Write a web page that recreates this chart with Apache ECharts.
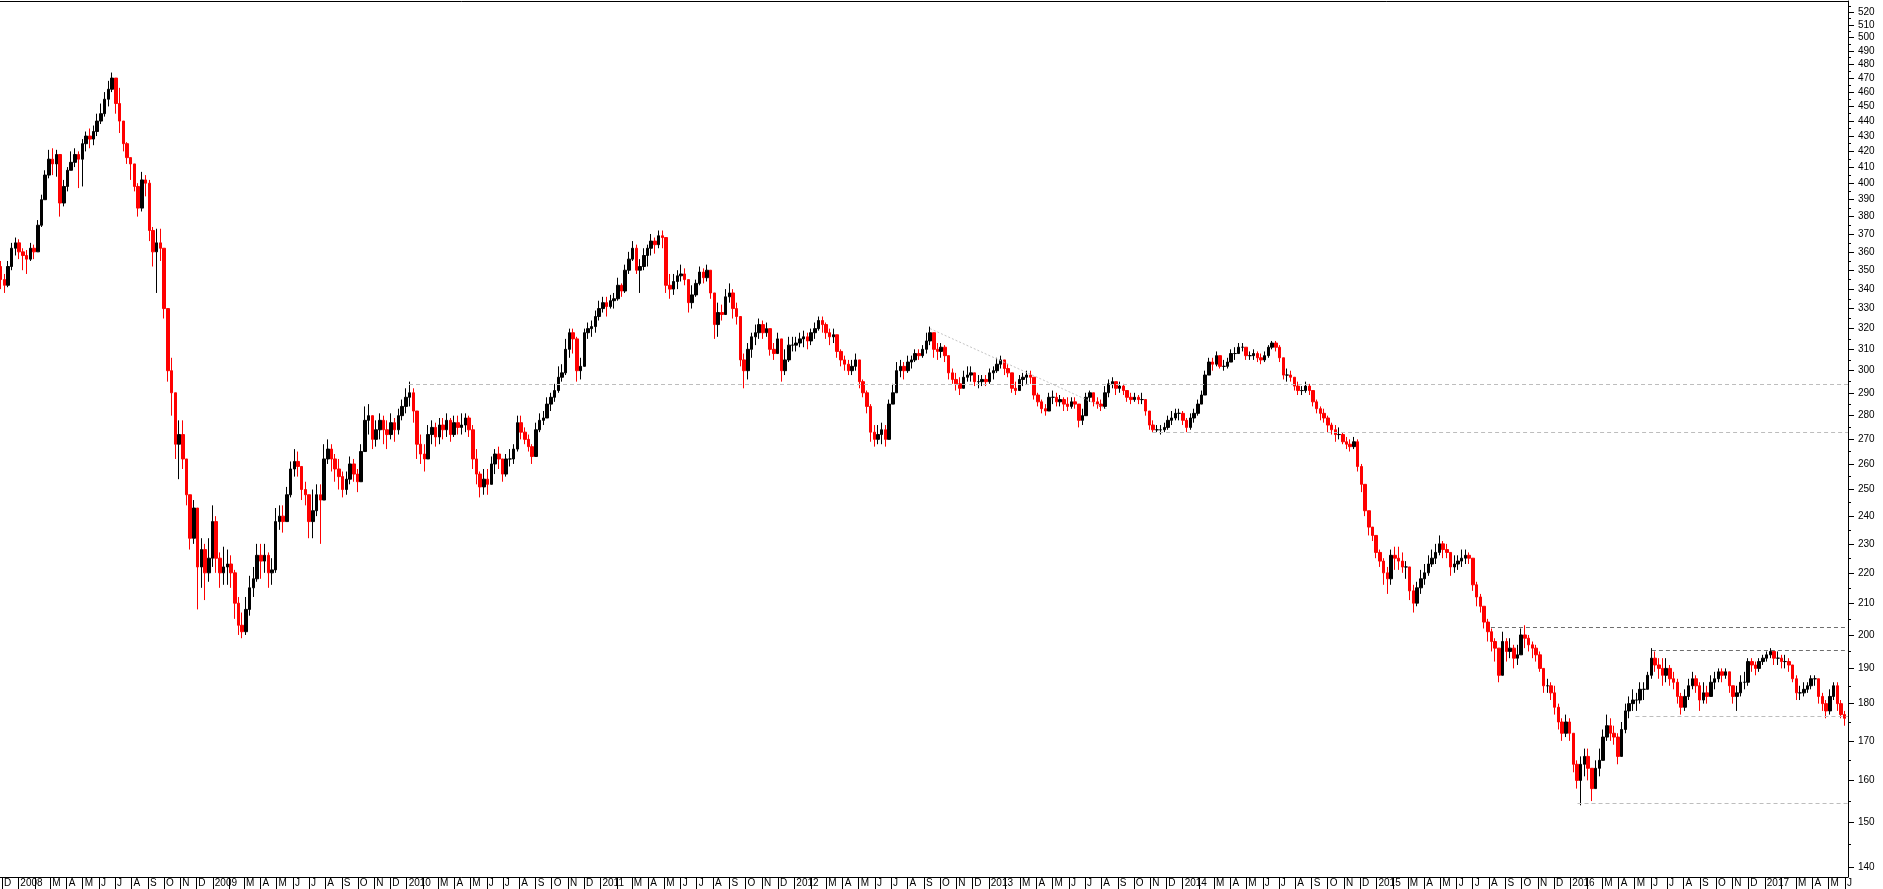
<!DOCTYPE html>
<html><head><meta charset="utf-8">
<script src="https://cdn.jsdelivr.net/npm/echarts@6/dist/echarts.min.js"></script>
<style>html,body{margin:0;padding:0;background:#fff;}#c{width:1883px;height:889px;}</style>
</head><body><div id="c"></div>
<script>
// ---- data (weekly bars: [close, high, low]) ----
const blockStarts = ['2007-11-30','2008-01-04','2009-01-02','2010-01-01','2011-01-07','2012-01-06','2013-01-04','2014-01-03','2015-01-02','2016-01-01','2017-01-06'];
const firstOpen = 352;
const w2007 = [[345,355,340],[342,348,338],[352,355,341],[362,365,350],[365,368,358]];
const w2008 = [[360,367,356],[358,362,350],[356,361,348],[362,365,355],[360,364,356],[375,378,360],[390,393,374],[405,408,390],[415,421,403],[412,422,405],[418,421,404],[388,418,380],[398,402,386],[408,410,395],[413,420,408],[418,422,410],[415,420,397],[425,428,398],[430,433,420],[428,435,422],[433,437,424],[440,445,430],[445,452,438],[455,460,443],[462,468,450],[470,474,460],[452,470,445],[440,463,432],[425,440,420],[416,426,412],[412,416,402],[398,410,395],[385,400,380],[402,407,383],[400,405,392],[372,402,366],[360,374,352],[365,373,338],[362,373,355],[330,360,325],[300,328,295],[290,306,280],[268,285,262],[272,278,254],[262,278,258],[248,262,244],[232,246,228],[243,246,230],[222,238,208],[228,232,215],[220,230,211],[225,232,217]];
const w2009 = [[238,244,222],[225,240,220],[220,227,215],[222,229,216],[223,228,216],[220,226,215],[210,221,205],[203,212,200],[201,207,199],[208,212,200],[215,219,206],[218,222,212],[226,230,217],[224,230,218],[226,230,220],[220,227,215],[221,225,216],[238,243,220],[240,244,235],[238,244,234],[248,251,240],[258,261,247],[261,266,255],[259,265,255],[250,259,246],[248,253,244],[238,248,232],[242,250,232],[248,252,240],[246,252,230],[262,268,250],[266,270,260],[262,268,257],[258,264,253],[255,262,250],[250,257,247],[254,257,248],[260,263,252],[256,262,253],[253,258,249],[265,268,254],[278,284,265],[280,285,272],[270,280,266],[274,278,267],[278,281,270],[274,280,268],[272,278,266],[277,281,270],[274,279,269],[280,283,272],[284,287,278]];
const w2010 = [[288,292,281],[290,295,284],[282,292,277],[268,280,262],[264,272,260],[262,268,257],[272,276,262],[275,278,268],[271,277,267],[276,279,268],[274,279,270],[278,281,271],[272,279,269],[277,280,271],[275,280,272],[276,281,272],[279,281,273],[274,280,271],[262,276,258],[256,266,252],[251,257,247],[254,258,248],[252,258,248],[260,263,252],[264,266,256],[262,267,258],[256,262,253],[262,264,255],[262,266,259],[266,268,260],[277,280,265],[273,280,270],[270,275,268],[267,272,265],[263,268,260],[274,277,264],[278,281,273],[279,282,276],[285,288,279],[288,290,282],[291,294,286],[297,302,290],[299,303,295],[310,315,298],[318,320,306],[315,320,308],[300,316,295],[302,306,296],[318,320,302],[320,323,315],[321,324,316],[326,329,318],[330,334,324]];
const w2011 = [[333,336,328],[331,336,326],[334,337,330],[335,338,330],[342,346,334],[339,343,336],[350,353,338],[356,360,348],[362,366,355],[350,364,348],[352,356,338],[358,362,350],[362,364,352],[366,370,358],[364,368,359],[369,372,362],[368,372,362],[342,365,338],[340,348,335],[344,348,337],[347,350,340],[348,353,344],[345,351,342],[333,344,328],[337,342,330],[343,345,336],[349,352,342],[346,351,343],[350,353,344],[338,348,335],[322,338,315],[328,333,316],[327,332,324],[336,340,328],[338,343,333],[330,340,325],[326,333,322],[305,322,302],[300,308,292],[310,313,296],[316,318,306],[318,322,312],[322,325,315],[318,324,315],[320,323,316],[310,318,307],[308,313,305],[315,318,310],[300,314,295],[305,310,298],[312,316,304],[312,316,309]];
const w2012 = [[313,316,309],[315,318,311],[316,319,311],[314,318,310],[318,320,312],[320,323,315],[324,326,319],[322,326,318],[318,323,315],[316,320,312],[317,320,313],[309,316,306],[305,310,302],[303,307,300],[300,305,298],[302,305,298],[305,308,300],[295,304,292],[290,296,288],[284,291,281],[273,285,269],[270,276,267],[272,276,268],[274,277,268],[270,276,267],[285,287,270],[290,294,285],[300,304,290],[302,305,297],[300,304,296],[304,307,299],[305,307,301],[308,310,304],[307,310,305],[310,312,306],[314,318,308],[318,321,312],[310,318,306],[309,313,305],[311,313,306],[307,312,304],[299,306,296],[296,301,294],[294,299,291],[292,297,289],[297,300,292],[298,302,295],[299,302,295],[295,299,293],[295,298,292],[296,298,293],[295,298,293]];
const w2013 = [[299,301,294],[300,302,296],[303,306,299],[305,307,301],[301,305,298],[299,303,297],[292,298,290],[291,295,289],[296,298,291],[297,299,293],[298,300,294],[297,300,294],[289,296,287],[286,290,284],[283,287,281],[282,285,280],[288,290,282],[288,291,285],[286,290,284],[287,289,284],[285,288,282],[284,288,282],[286,288,283],[285,288,283],[278,285,275],[280,283,276],[288,290,280],[290,291,286],[286,290,284],[285,288,283],[284,287,282],[290,293,283],[294,296,288],[295,297,292],[292,295,289],[293,295,290],[291,294,289],[288,291,286],[287,290,285],[288,290,286],[287,289,285],[287,290,285],[282,287,280],[276,282,274],[274,278,273],[274,276,273],[274,276,272],[275,277,273],[278,280,274],[279,282,276],[281,283,278],[281,283,278]];
const w2014 = [[278,282,276],[275,279,273],[279,281,274],[281,283,277],[285,287,280],[289,291,285],[298,300,290],[304,306,298],[303,306,300],[307,309,302],[302,307,301],[302,305,300],[304,306,301],[308,310,304],[308,311,305],[311,313,308],[311,313,309],[307,311,305],[307,309,305],[308,310,305],[306,309,304],[305,308,303],[307,309,304],[311,312,306],[313,314,310],[311,314,309],[306,312,304],[298,305,296],[298,301,295],[297,300,295],[293,297,291],[291,295,289],[291,293,289],[293,295,290],[291,294,289],[286,290,284],[283,287,281],[281,284,278],[279,283,277],[276,280,273],[274,277,272],[272,276,269],[272,275,270],[269,273,268],[268,271,266],[267,270,265],[269,271,266],[259,270,257],[252,260,249],[242,251,240],[236,242,233],[233,236,231]];
const w2015 = [[227,232,225],[224,228,222],[220,225,216],[218,222,213],[226,228,216],[225,229,221],[224,229,221],[222,227,220],[222,224,218],[214,221,211],[210,216,207],[215,217,209],[218,221,213],[220,223,216],[223,226,219],[225,228,222],[227,230,223],[230,233,226],[228,231,225],[227,230,225],[222,227,219],[223,226,220],[224,226,221],[225,228,222],[226,228,223],[225,227,223],[216,222,214],[212,217,209],[209,213,207],[204,209,202],[201,205,198],[198,202,195],[196,199,192],[188,196,186],[198,201,188],[195,199,192],[196,199,193],[193,197,190],[194,197,191],[200,202,194],[199,203,196],[197,200,195],[196,198,193],[194,197,192],[190,195,189],[185,190,183],[185,187,183],[183,186,181],[179,185,177],[175,180,173],[172,176,170],[175,177,171]];
const w2016 = [[172,176,170],[164,171,162],[160,165,158],[164,166,154],[166,168,161],[163,168,160],[158,163,155],[163,165,158],[165,168,161],[171,173,166],[174,177,170],[172,176,170],[171,174,169],[166,172,164],[173,175,166],[178,180,172],[180,182,176],[181,184,178],[181,183,178],[184,186,180],[184,186,181],[188,189,184],[193,196,187],[191,195,189],[190,193,187],[188,193,185],[190,193,186],[187,191,185],[186,189,184],[182,187,180],[179,183,177],[182,184,178],[185,187,181],[187,189,184],[185,188,183],[181,186,178],[183,186,180],[182,185,180],[186,188,182],[187,189,184],[189,190,186],[188,190,186],[189,190,187],[185,189,183],[182,185,180],[183,185,178],[186,188,182],[186,189,184],[192,193,185],[191,193,189],[190,192,188],[192,193,189],[193,194,191]];
const w2017 = [[194,195,192],[195,196,193],[193,195,191],[193,195,191],[192,194,190],[192,194,190],[191,193,189],[187,191,186],[183,188,181],[183,185,181],[184,186,182],[185,186,183],[187,188,184],[187,188,185],[182,187,180],[180,183,178],[178,181,176],[182,184,177],[185,186,181],[180,186,178],[177,181,176],[176,178,174]];
const weekBlocks = [w2007,w2008,w2009,w2010,w2011,w2012,w2013,w2014,w2015,w2016,w2017];

// axis values
const xRange = ['2007-11-27', '2017-06-06'];
const yRange = [137.96, 529];
const yTickLabels = [140,150,160,170,180,190,200,210,220,230,240,250,260,270,280,290,300,310,320,330,340,350,360,370,380,390,400,410,420,430,440,450,460,470,480,490,500,510,520];
const yMinorTicks = [145,155,165,175,185,195,205,215,225,235,245,255,265,275,285,295,305,315,325,335,345,355,365,375,385,395,405,415,425,435,445,455,465,475,485,495,505,515,525];
const monthLetters = ['J','F','M','A','M','J','J','A','S','O','N','D'];
const monthRange = ['2007-12', '2017-06'];

// horizontal / trend reference lines: [startDate, startValue, endDate(null = right edge), endValue, kind]
const refLines = [
  ['2010-01-05', 294, null, 294, 'light'],
  ['2013-11-04', 273, null, 273, 'light'],
  ['2015-08-04', 202.5, null, 202.5, 'dark'],
  ['2016-06-02', 195.5, null, 195.5, 'dark'],
  ['2016-05-02', 176.5, null, 176.5, 'light'],
  ['2016-01-14', 154.5, null, 154.5, 'light'],
  ['2012-09-12', 320, '2013-08-10', 283, 'dotted']
];

// ---- build ----
function ts(s, hour) { const p = s.split('-').map(Number); return new Date(p[0], p[1]-1, p[2] || 1, hour || 0).getTime(); }
const L = v => Math.log10(v);
const xMin = ts(xRange[0], 10), xMax = ts(xRange[1], 17);

const bars = [];
let prevClose = firstOpen;
weekBlocks.forEach((blk, bi) => {
  const p = blockStarts[bi].split('-').map(Number);
  blk.forEach((w, i) => {
    const t = new Date(p[0], p[1]-1, p[2] + 7*i - 2, 12).getTime();
    const open = prevClose, close = w[0], high = Math.max(w[1], open, close), low = Math.min(w[2], open, close);
    bars.push([t, L(open), L(close), L(low), L(high)]);
    prevClose = close;
  });
});

const monthTicks = [], monthLabelTicks = [];
{
  const a = monthRange[0].split('-').map(Number), b = monthRange[1].split('-').map(Number);
  let y = a[0], m = a[1]-1;
  while (y < b[0] || (y === b[0] && m <= b[1]-1)) {
    const t = new Date(y, m, 1).getTime();
    monthTicks.push(t);
    if (m !== 1) monthLabelTicks.push(t);
    m++; if (m > 11) { m = 0; y++; }
  }
}

const styles = {
  light: {color:'#bdbdbd', width:1, type:[4,3]},
  dark: {color:'#6e6e6e', width:1, type:[4,3]},
  dotted: {color:'#c4c4c4', width:1, type:[2,2]}
};
const markData = refLines.map(r => [
  {coord:[ts(r[0], 12), L(r[1])], lineStyle: styles[r[4]]},
  {coord:[r[2] ? ts(r[2], 12) : xMax, L(r[3])]}
]);

const chart = echarts.init(document.getElementById('c'), null, {renderer:'canvas', devicePixelRatio:1});
const font = 'Liberation Sans, Arial, sans-serif';
chart.setOption({
  animation: false,
  backgroundColor: '#fff',
  grid: {left: 0, right: 35, top: 1, bottom: 12, containLabel: false},
  xAxis: [{
    type: 'value', position: 'bottom', min: xMin, max: xMax, scale: true,
    axisLine: {show: true, onZero: false, lineStyle: {color: '#000', width: 1}},
    axisTick: {show: true, inside: false, length: 12, customValues: monthTicks, lineStyle: {color: '#000', width: 1}},
    axisLabel: {show: true, customValues: monthLabelTicks, align: 'left', margin: 1, padding: [0,0,0,2],
      fontSize: 10, fontFamily: font, color: '#000', hideOverlap: false, showMinLabel: true, showMaxLabel: true,
      formatter: v => { const d = new Date(v); return d.getMonth() === 0 ? String(d.getFullYear()) : monthLetters[d.getMonth()]; }},
    splitLine: {show: false}
  }, {
    type: 'value', position: 'top', min: 0, max: 1,
    axisLine: {show: true, onZero: false, lineStyle: {color: '#000', width: 1}},
    axisTick: {show: false}, axisLabel: {show: false}, splitLine: {show: false}
  }],
  yAxis: [{
    type: 'value', position: 'right', min: L(yRange[0]), max: L(yRange[1]), scale: true,
    axisLine: {show: true, onZero: false, lineStyle: {color: '#000', width: 1}},
    axisTick: {show: true, inside: false, length: 6, customValues: yTickLabels.map(L), lineStyle: {color: '#000'}},
    axisLabel: {show: true, customValues: yTickLabels.map(L), margin: 10, fontSize: 10, fontFamily: font, color: '#000',
      formatter: v => String(Math.round(Math.pow(10, v)))},
    splitLine: {show: false}
  }, {
    type: 'value', position: 'right', min: L(yRange[0]), max: L(yRange[1]), scale: true,
    axisLine: {show: false, onZero: false},
    axisTick: {show: true, inside: false, length: 3, customValues: yMinorTicks.map(L), lineStyle: {color: '#000'}},
    axisLabel: {show: false}, splitLine: {show: false}
  }],
  series: [{
    type: 'candlestick', xAxisIndex: 0, yAxisIndex: 0,
    data: bars, encode: {x: 0, y: [1, 2, 3, 4]},
    barWidth: 3,
    itemStyle: {color: '#000', color0: '#ff0000', borderColor: '#000', borderColor0: '#ff0000', borderWidth: 1},
    markLine: {symbol: 'none', silent: true, animation: false, label: {show: false}, emphasis: {disabled: true}, data: markData}
  }]
});
</script></body></html>
